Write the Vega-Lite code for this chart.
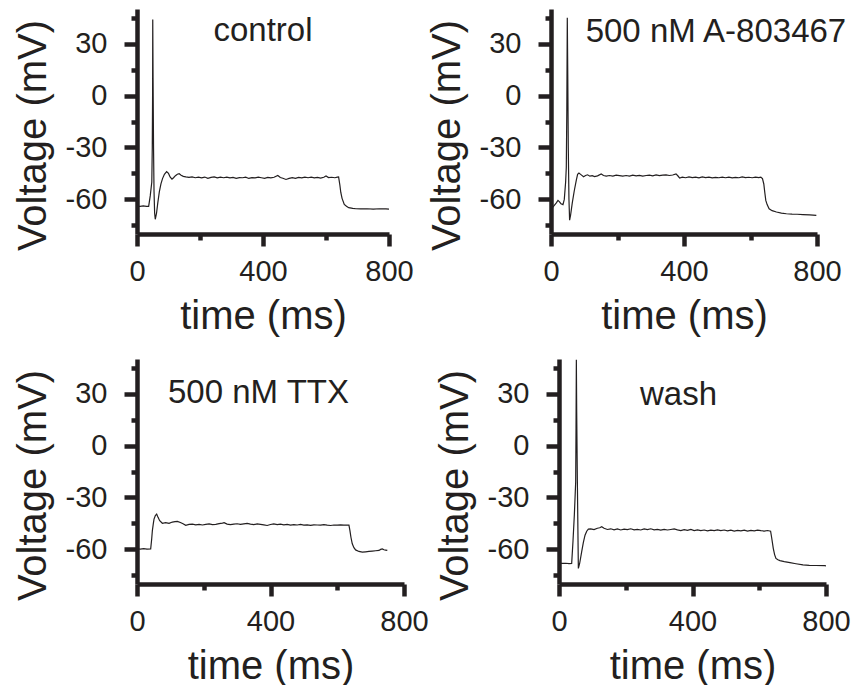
{
  "$schema": "https://vega.github.io/schema/vega-lite/v6.json",
  "padding": {"left": 13, "top": 3, "right": 4, "bottom": 0},
  "background": "white",
  "datasets": {
    "control": [
      {"t":0,"v":-64},{"t":10,"v":-64},{"t":20,"v":-63.8},{"t":30,"v":-64},{"t":37,"v":-64},{"t":42,"v":-58},{"t":47,"v":-50},{"t":48.5,"v":-30},{"t":49.5,"v":0},{"t":50,"v":44},{"t":51,"v":10},{"t":52.5,"v":-30},{"t":54,"v":-55},{"t":56,"v":-68},{"t":58,"v":-71.5},{"t":62,"v":-68},{"t":66,"v":-62},{"t":71,"v":-55.5},{"t":76,"v":-51},{"t":81,"v":-48},{"t":87,"v":-45.5},{"t":94,"v":-44},{"t":100,"v":-45},{"t":105,"v":-47},{"t":111,"v":-48.3},{"t":116,"v":-47.5},{"t":122,"v":-46.3},{"t":128,"v":-45.5},{"t":134,"v":-45.2},{"t":140,"v":-46},{"t":147,"v":-46.7},{"t":155,"v":-47},{"t":165,"v":-47.3},{"t":175,"v":-47},{"t":185,"v":-47.5},{"t":195,"v":-47.2},{"t":205,"v":-47.6},{"t":215,"v":-47.1},{"t":225,"v":-47.8},{"t":235,"v":-47.3},{"t":245,"v":-47},{"t":255,"v":-47.6},{"t":265,"v":-47.2},{"t":275,"v":-47.5},{"t":285,"v":-47.1},{"t":295,"v":-47.6},{"t":305,"v":-47.3},{"t":315,"v":-47.8},{"t":325,"v":-47.4},{"t":335,"v":-47.5},{"t":345,"v":-47.2},{"t":355,"v":-47.9},{"t":365,"v":-47.4},{"t":375,"v":-47.6},{"t":385,"v":-47.2},{"t":395,"v":-47.5},{"t":405,"v":-47.8},{"t":415,"v":-47.3},{"t":425,"v":-47.6},{"t":435,"v":-47.2},{"t":447,"v":-46.2},{"t":455,"v":-47.4},{"t":463,"v":-47.8},{"t":473,"v":-48.5},{"t":483,"v":-47.9},{"t":493,"v":-47.4},{"t":503,"v":-47.8},{"t":513,"v":-47.3},{"t":523,"v":-47.6},{"t":533,"v":-47.1},{"t":543,"v":-47.5},{"t":553,"v":-47.2},{"t":563,"v":-47.6},{"t":573,"v":-47.3},{"t":583,"v":-47.7},{"t":593,"v":-47.2},{"t":600,"v":-46.5},{"t":608,"v":-47.4},{"t":618,"v":-47.2},{"t":628,"v":-47.5},{"t":636,"v":-47.1},{"t":640,"v":-47},{"t":644,"v":-51.7},{"t":647,"v":-56},{"t":651,"v":-59.4},{"t":658,"v":-62.9},{"t":665,"v":-64},{"t":672,"v":-64.8},{"t":685,"v":-65.2},{"t":695,"v":-65.4},{"t":710,"v":-65.5},{"t":730,"v":-65.4},{"t":750,"v":-65.6},{"t":770,"v":-65.4},{"t":790,"v":-65.5},{"t":800,"v":-65.6}
    ],
    "a803467": [
      {"t":0,"v":-65},{"t":4,"v":-64.8},{"t":10,"v":-63.5},{"t":16,"v":-62},{"t":21,"v":-60.6},{"t":25,"v":-61.3},{"t":30,"v":-62.5},{"t":36,"v":-63},{"t":40,"v":-60},{"t":44,"v":-50},{"t":46,"v":-41.6},{"t":47.5,"v":-10},{"t":49,"v":45},{"t":50.5,"v":10},{"t":52,"v":-30},{"t":54,"v":-60},{"t":56,"v":-72},{"t":59,"v":-69},{"t":64,"v":-62},{"t":70,"v":-55},{"t":76,"v":-49},{"t":80,"v":-45.5},{"t":84,"v":-44.8},{"t":90,"v":-45.7},{"t":98,"v":-46.9},{"t":104,"v":-46.2},{"t":110,"v":-45.8},{"t":117,"v":-46.6},{"t":124,"v":-46.3},{"t":131,"v":-46.8},{"t":140,"v":-46.4},{"t":151,"v":-45.3},{"t":158,"v":-46.2},{"t":166,"v":-46.5},{"t":176,"v":-46.2},{"t":186,"v":-46.5},{"t":196,"v":-46},{"t":206,"v":-46.3},{"t":216,"v":-46.6},{"t":226,"v":-46.2},{"t":236,"v":-46.5},{"t":246,"v":-46},{"t":256,"v":-46.4},{"t":266,"v":-46.1},{"t":276,"v":-46.5},{"t":286,"v":-46.2},{"t":296,"v":-46},{"t":306,"v":-46.4},{"t":316,"v":-45.9},{"t":326,"v":-46.3},{"t":336,"v":-46},{"t":346,"v":-45.8},{"t":356,"v":-46.2},{"t":366,"v":-45.9},{"t":376,"v":-45.3},{"t":382,"v":-46.5},{"t":387,"v":-47.7},{"t":395,"v":-47.2},{"t":405,"v":-47.5},{"t":415,"v":-47},{"t":425,"v":-47.4},{"t":435,"v":-47.1},{"t":445,"v":-47.6},{"t":455,"v":-47},{"t":465,"v":-47.4},{"t":475,"v":-47.2},{"t":485,"v":-47.6},{"t":495,"v":-47.3},{"t":505,"v":-47.5},{"t":515,"v":-47.1},{"t":525,"v":-47.5},{"t":535,"v":-47.2},{"t":545,"v":-47.6},{"t":555,"v":-47.3},{"t":565,"v":-47.5},{"t":575,"v":-47},{"t":585,"v":-47.4},{"t":595,"v":-47.2},{"t":605,"v":-47.5},{"t":615,"v":-47.1},{"t":625,"v":-47.4},{"t":631,"v":-47.2},{"t":636,"v":-48},{"t":640,"v":-51.1},{"t":643,"v":-56},{"t":646,"v":-60.6},{"t":650,"v":-63},{"t":656,"v":-65.4},{"t":665,"v":-66.5},{"t":678,"v":-67.3},{"t":693,"v":-67.9},{"t":708,"v":-68.3},{"t":725,"v":-68.5},{"t":740,"v":-68.6},{"t":758,"v":-68.8},{"t":778,"v":-69},{"t":798,"v":-69.2}
    ],
    "ttx": [
      {"t":0,"v":-59.7},{"t":10,"v":-59.8},{"t":20,"v":-59.6},{"t":30,"v":-59.8},{"t":41,"v":-59.7},{"t":44,"v":-54},{"t":46,"v":-49.2},{"t":49,"v":-45},{"t":51,"v":-42.5},{"t":55,"v":-40.5},{"t":59,"v":-39.6},{"t":63,"v":-41.5},{"t":68,"v":-43.4},{"t":76,"v":-44.9},{"t":86,"v":-44.6},{"t":96,"v":-45},{"t":106,"v":-44.2},{"t":114,"v":-44},{"t":121,"v":-43.8},{"t":130,"v":-44.5},{"t":138,"v":-45.2},{"t":146,"v":-46.1},{"t":156,"v":-45.6},{"t":166,"v":-45.4},{"t":176,"v":-45.8},{"t":186,"v":-45.5},{"t":196,"v":-45.9},{"t":206,"v":-45.6},{"t":216,"v":-45.3},{"t":226,"v":-45.7},{"t":236,"v":-45.5},{"t":246,"v":-45.1},{"t":256,"v":-44.8},{"t":261,"v":-44.6},{"t":270,"v":-45.4},{"t":280,"v":-45.7},{"t":290,"v":-45.4},{"t":300,"v":-45.2},{"t":310,"v":-45.6},{"t":320,"v":-45.3},{"t":330,"v":-45},{"t":340,"v":-45.4},{"t":350,"v":-45.7},{"t":360,"v":-45.3},{"t":370,"v":-45.5},{"t":380,"v":-45.8},{"t":390,"v":-46.2},{"t":400,"v":-45.6},{"t":410,"v":-45.3},{"t":420,"v":-45.7},{"t":430,"v":-45.4},{"t":440,"v":-45.8},{"t":450,"v":-45.6},{"t":460,"v":-46},{"t":470,"v":-45.7},{"t":480,"v":-45.9},{"t":490,"v":-45.6},{"t":500,"v":-46},{"t":510,"v":-45.8},{"t":520,"v":-46.1},{"t":530,"v":-45.8},{"t":540,"v":-45.9},{"t":550,"v":-46},{"t":560,"v":-45.7},{"t":570,"v":-46},{"t":580,"v":-46.2},{"t":590,"v":-45.9},{"t":600,"v":-46},{"t":610,"v":-45.8},{"t":620,"v":-46},{"t":630,"v":-45.9},{"t":635,"v":-46},{"t":638,"v":-49.2},{"t":641,"v":-53},{"t":645,"v":-56.8},{"t":650,"v":-59},{"t":655,"v":-60.3},{"t":665,"v":-61.2},{"t":675,"v":-61.6},{"t":685,"v":-61.4},{"t":695,"v":-61.2},{"t":705,"v":-61},{"t":715,"v":-60.8},{"t":725,"v":-60.6},{"t":730,"v":-60},{"t":735,"v":-59.7},{"t":740,"v":-60.2},{"t":745,"v":-60.4},{"t":750,"v":-60.6}
    ],
    "wash": [
      {"t":0,"v":-68.1},{"t":10,"v":-68.1},{"t":20,"v":-68},{"t":30,"v":-68.2},{"t":38,"v":-68.1},{"t":42,"v":-55},{"t":46,"v":-40},{"t":50,"v":-21},{"t":51,"v":10},{"t":52,"v":49.5},{"t":53,"v":20},{"t":55,"v":-20},{"t":57,"v":-55},{"t":58,"v":-71},{"t":62,"v":-68},{"t":68,"v":-61.3},{"t":73,"v":-56},{"t":78,"v":-51.8},{"t":83,"v":-49.5},{"t":88,"v":-48.3},{"t":95,"v":-48.2},{"t":105,"v":-48.6},{"t":115,"v":-47.8},{"t":122,"v":-47.5},{"t":128,"v":-46.9},{"t":135,"v":-47.8},{"t":145,"v":-48.5},{"t":155,"v":-48.1},{"t":165,"v":-48.7},{"t":175,"v":-48.2},{"t":185,"v":-48.8},{"t":195,"v":-48.3},{"t":205,"v":-48.6},{"t":215,"v":-48.1},{"t":225,"v":-48.7},{"t":235,"v":-48.4},{"t":245,"v":-48.8},{"t":255,"v":-48.2},{"t":265,"v":-48.6},{"t":275,"v":-48.1},{"t":285,"v":-48.7},{"t":295,"v":-48.5},{"t":305,"v":-48.9},{"t":315,"v":-48.4},{"t":325,"v":-48.8},{"t":335,"v":-48.5},{"t":345,"v":-48.2},{"t":355,"v":-48.7},{"t":365,"v":-49.1},{"t":375,"v":-48.6},{"t":385,"v":-49},{"t":395,"v":-48.5},{"t":405,"v":-49.1},{"t":415,"v":-48.7},{"t":425,"v":-49.2},{"t":435,"v":-48.8},{"t":445,"v":-49.3},{"t":455,"v":-48.9},{"t":465,"v":-49.2},{"t":475,"v":-48.7},{"t":485,"v":-49.1},{"t":495,"v":-48.8},{"t":505,"v":-49.3},{"t":515,"v":-48.9},{"t":525,"v":-49.4},{"t":535,"v":-49},{"t":545,"v":-49.3},{"t":555,"v":-48.9},{"t":565,"v":-49.4},{"t":575,"v":-49},{"t":585,"v":-49.3},{"t":595,"v":-48.9},{"t":605,"v":-49.2},{"t":615,"v":-49.4},{"t":625,"v":-49.1},{"t":634,"v":-49.5},{"t":637,"v":-53},{"t":642,"v":-59.4},{"t":646,"v":-63},{"t":650,"v":-65.2},{"t":656,"v":-66},{"t":662,"v":-66.5},{"t":675,"v":-67.1},{"t":692,"v":-67.7},{"t":710,"v":-68.3},{"t":731,"v":-69},{"t":750,"v":-69.2},{"t":770,"v":-69.3},{"t":796,"v":-69.4},{"t":800,"v":-69.5}
    ]
  },
  "vconcat": [
    {
      "hconcat": [
        {
          "width": 252, "height": 225,
          "encoding": {
            "x": {"field": "t", "type": "quantitative", "scale": {"domain": [0, 800], "nice": false, "zero": false},
              "axis": {"title": "time (ms)", "values": [0,200,400,600,800], "labelExpr": "datum.value % 400 === 0 ? datum.label : ''", "tickSize": 12, "domainWidth": 4.5, "tickWidth": 4.5, "tickDash": {"condition": {"test": "datum.value % 400 !== 0", "value": [6, 60]}, "value": []}, "labelPadding": 11, "titlePadding": 10}},
            "y": {"field": "v", "type": "quantitative", "scale": {"domain": [-80, 50], "nice": false, "zero": false},
              "axis": {"title": "Voltage (mV)", "values": [-75,-60,-45,-30,-15,0,15,30,45], "labelExpr": "datum.value % 30 === 0 ? replace(datum.label, '\u2212', '-') : ''", "tickSize": 13, "domainWidth": 4.5, "tickWidth": 4.5, "tickDash": {"condition": {"test": "datum.value % 30 !== 0", "value": [6, 60]}, "value": []}, "labelPadding": 17, "titlePadding": 12, "titleY": 126}}
          },
          "layer": [
            {
              "data": {"name": "control"},
              "mark": {"type": "line", "color": "#231f20", "strokeWidth": 1.2, "clip": true}
            },
            {
              "data": {"values": [{"label": "control", "t": 400, "v": 31.7}]},
              "mark": {"type": "text", "align": "center", "baseline": "alphabetic", "font": "Liberation Sans", "fontSize": 33, "color": "#231f20"},
              "encoding": {"text": {"field": "label"}}
            }
          ]
        },
        {
          "width": 266, "height": 225,
          "encoding": {
            "x": {"field": "t", "type": "quantitative", "scale": {"domain": [0, 800], "nice": false, "zero": false},
              "axis": {"title": "time (ms)", "values": [0,200,400,600,800], "labelExpr": "datum.value % 400 === 0 ? datum.label : ''", "tickSize": 12, "domainWidth": 4.5, "tickWidth": 4.5, "tickDash": {"condition": {"test": "datum.value % 400 !== 0", "value": [6, 60]}, "value": []}, "labelPadding": 11, "titlePadding": 10}},
            "y": {"field": "v", "type": "quantitative", "scale": {"domain": [-80, 50], "nice": false, "zero": false},
              "axis": {"title": "Voltage (mV)", "values": [-75,-60,-45,-30,-15,0,15,30,45], "labelExpr": "datum.value % 30 === 0 ? replace(datum.label, '\u2212', '-') : ''", "tickSize": 13, "domainWidth": 4.5, "tickWidth": 4.5, "tickDash": {"condition": {"test": "datum.value % 30 !== 0", "value": [6, 60]}, "value": []}, "labelPadding": 17, "titlePadding": 12, "titleY": 126}}
          },
          "layer": [
            {
              "data": {"name": "a803467"},
              "mark": {"type": "line", "color": "#231f20", "strokeWidth": 1.2, "clip": true}
            },
            {
              "data": {"values": [{"label": "500 nM A-803467", "t": 496, "v": 30.9}]},
              "mark": {"type": "text", "align": "center", "baseline": "alphabetic", "font": "Liberation Sans", "fontSize": 33, "color": "#231f20"},
              "encoding": {"text": {"field": "label"}}
            }
          ]
        }
      ],
      "spacing": 13
    },
    {
      "hconcat": [
        {
          "width": 267, "height": 225,
          "encoding": {
            "x": {"field": "t", "type": "quantitative", "scale": {"domain": [0, 800], "nice": false, "zero": false},
              "axis": {"title": "time (ms)", "values": [0,200,400,600,800], "labelExpr": "datum.value % 400 === 0 ? datum.label : ''", "tickSize": 12, "domainWidth": 4.5, "tickWidth": 4.5, "tickDash": {"condition": {"test": "datum.value % 400 !== 0", "value": [6, 60]}, "value": []}, "labelPadding": 11, "titlePadding": 10}},
            "y": {"field": "v", "type": "quantitative", "scale": {"domain": [-80, 50], "nice": false, "zero": false},
              "axis": {"title": "Voltage (mV)", "values": [-75,-60,-45,-30,-15,0,15,30,45], "labelExpr": "datum.value % 30 === 0 ? replace(datum.label, '\u2212', '-') : ''", "tickSize": 13, "domainWidth": 4.5, "tickWidth": 4.5, "tickDash": {"condition": {"test": "datum.value % 30 !== 0", "value": [6, 60]}, "value": []}, "labelPadding": 17, "titlePadding": 12, "titleY": 126}}
          },
          "layer": [
            {
              "data": {"name": "ttx"},
              "mark": {"type": "line", "color": "#231f20", "strokeWidth": 1.2, "clip": true}
            },
            {
              "data": {"values": [{"label": "500 nM TTX", "t": 364, "v": 24.7}]},
              "mark": {"type": "text", "align": "center", "baseline": "alphabetic", "font": "Liberation Sans", "fontSize": 33, "color": "#231f20"},
              "encoding": {"text": {"field": "label"}}
            }
          ]
        },
        {
          "width": 267, "height": 225,
          "encoding": {
            "x": {"field": "t", "type": "quantitative", "scale": {"domain": [0, 800], "nice": false, "zero": false},
              "axis": {"title": "time (ms)", "values": [0,200,400,600,800], "labelExpr": "datum.value % 400 === 0 ? datum.label : ''", "tickSize": 12, "domainWidth": 4.5, "tickWidth": 4.5, "tickDash": {"condition": {"test": "datum.value % 400 !== 0", "value": [6, 60]}, "value": []}, "labelPadding": 11, "titlePadding": 10}},
            "y": {"field": "v", "type": "quantitative", "scale": {"domain": [-80, 50], "nice": false, "zero": false},
              "axis": {"title": "Voltage (mV)", "values": [-75,-60,-45,-30,-15,0,15,30,45], "labelExpr": "datum.value % 30 === 0 ? replace(datum.label, '\u2212', '-') : ''", "tickSize": 13, "domainWidth": 4.5, "tickWidth": 4.5, "tickDash": {"condition": {"test": "datum.value % 30 !== 0", "value": [6, 60]}, "value": []}, "labelPadding": 17, "titlePadding": 12, "titleY": 126}}
          },
          "layer": [
            {
              "data": {"name": "wash"},
              "mark": {"type": "line", "color": "#231f20", "strokeWidth": 1.2, "clip": true}
            },
            {
              "data": {"values": [{"label": "wash", "t": 358, "v": 23.7}]},
              "mark": {"type": "text", "align": "center", "baseline": "alphabetic", "font": "Liberation Sans", "fontSize": 33, "color": "#231f20"},
              "encoding": {"text": {"field": "label"}}
            }
          ]
        }
      ],
      "spacing": 6
    }
  ],
  "spacing": 17,
  "config": {
    "view": {"stroke": null},
    "axis": {
      "grid": false,
      "domainColor": "#231f20", "domainWidth": 4.5,
      "tickColor": "#231f20", "tickWidth": 4.5,
      "labelFont": "Liberation Sans", "labelFontSize": 29, "labelColor": "#231f20",
      "labelFlush": false, "labelOverlap": false, "labelBound": false,
      "titleFont": "Liberation Sans", "titleFontSize": 40, "titleFontWeight": "normal", "titleColor": "#231f20"
    }
  }
}
